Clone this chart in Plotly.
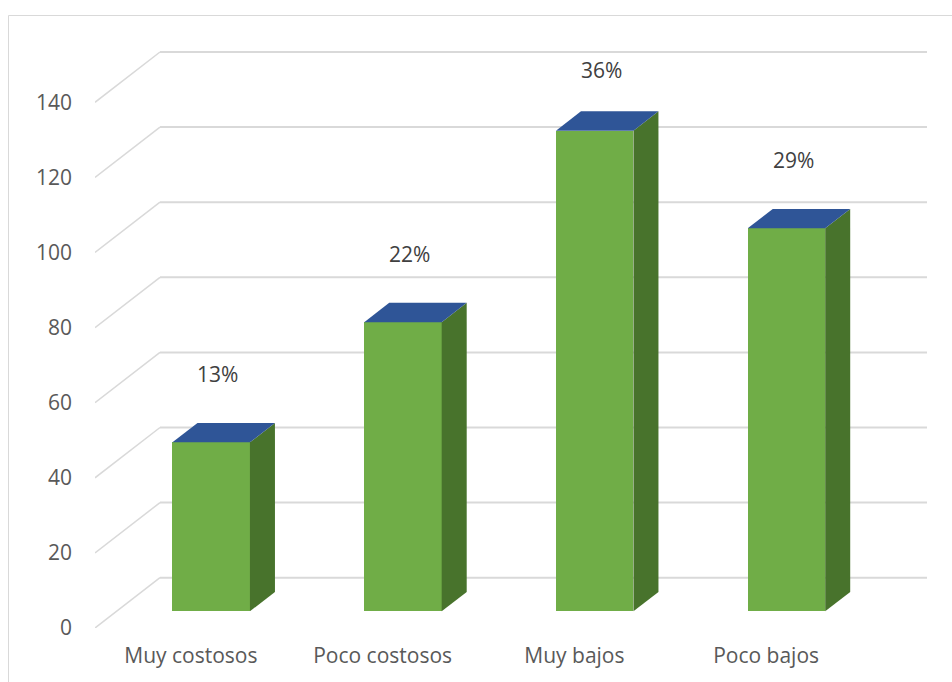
import plotly.graph_objects as go

# Data
categories = ["Muy costosos", "Poco costosos", "Muy bajos", "Poco bajos"]
values = [45, 77, 128, 102]
y_ticks = [0, 20, 40, 60, 80, 100, 120, 140]

# Canvas / plot-area geometry
W, H = 952, 682
M_L, M_R, M_T, M_B = 95, 25, 16, 54
plot_w = W - M_L - M_R
plot_h = H - M_T - M_B
PX_PER_UNIT = 3.755          # vertical pixels per value unit

# Oblique projection of the floor depth (in axis units)
n = len(categories)
PX_PER_CAT = 191.75
DEPTH_X = 65 / PX_PER_CAT
DEPTH_Y = 50.3 / PX_PER_UNIT

x_range = [-0.5, n - 0.5 + DEPTH_X]
y_range = [0, plot_h / PX_PER_UNIT]

# Bar placement inside the depth of the floor
F_FRONT = 0.332
F_DEPTH = 0.385
BAR_W = 0.404
base = F_FRONT * DEPTH_Y
shift = 0.106
dx = F_DEPTH * DEPTH_X
dy = F_DEPTH * DEPTH_Y

GREEN = "#70AD47"
GREEN_SIDE = "#48732C"
BLUE_TOP = "#2F5597"
GRID = "#D9D9D9"
TEXT = "#595959"
FONT = "Open Sans"
FS = 21

fig = go.Figure()

# Front faces of the bars
xc = [i + shift for i in range(n)]
fig.add_trace(go.Bar(
    x=xc, y=values, base=base, width=BAR_W,
    marker=dict(color=GREEN, line=dict(width=0)),
    hoverinfo="skip", showlegend=False,
))

# Side and top faces
for x, v in zip(xc, values):
    xl, xr = x - BAR_W / 2, x + BAR_W / 2
    top = base + v
    fig.add_trace(go.Scatter(
        x=[xr, xr, xr + dx, xr + dx, xr], y=[base, top, top + dy, base + dy, base],
        fill="toself", fillcolor=GREEN_SIDE, mode="lines", line=dict(width=0),
        hoverinfo="skip", showlegend=False,
    ))
    fig.add_trace(go.Scatter(
        x=[xl, xr, xr + dx, xl + dx, xl], y=[top, top, top + dy, top + dy, top],
        fill="toself", fillcolor=BLUE_TOP, mode="lines", line=dict(width=0),
        hoverinfo="skip", showlegend=False,
    ))

# Gridlines: diagonal on the side wall, horizontal on the back wall
shapes = []
for t in y_ticks:
    shapes.append(dict(type="line", xref="x", yref="y", layer="below",
                       x0=x_range[0], y0=t, x1=x_range[0] + DEPTH_X, y1=t + DEPTH_Y,
                       line=dict(color=GRID, width=1.5)))
    shapes.append(dict(type="line", xref="x", yref="y", layer="below",
                       x0=x_range[0] + DEPTH_X, y0=t + DEPTH_Y, x1=x_range[1], y1=t + DEPTH_Y,
                       line=dict(color=GRID, width=2)))


def px_x(px):
    return (px - M_L) / plot_w


def px_y(py):
    return (H - M_B - py) / plot_h


# Chart-area border (left and top edges)
shapes.append(dict(type="line", xref="paper", yref="paper", layer="below",
                   x0=px_x(8.5), y0=px_y(15.5), x1=px_x(8.5), y1=px_y(H + 2),
                   line=dict(color=GRID, width=1)))
shapes.append(dict(type="line", xref="paper", yref="paper", layer="below",
                   x0=px_x(8.5), y0=px_y(15.5), x1=px_x(W + 2), y1=px_y(15.5),
                   line=dict(color=GRID, width=1)))

# Percentage labels above the bars
total = sum(values)
LABEL_GAP = 18.2
LABEL_MAX = 148.7
annotations = []
for x, v in zip(xc, values):
    pct = int(v * 100 / total + 0.5)
    annotations.append(dict(
        x=x + 0.035, y=min(base + v + LABEL_GAP, LABEL_MAX), xref="x", yref="y",
        text=f"{pct}%", showarrow=False,
        font=dict(family=FONT, size=FS, color="#404040"),
        xanchor="center", yanchor="middle",
    ))

fig.update_layout(
    width=W, height=H,
    margin=dict(l=M_L, r=M_R, t=M_T, b=M_B, autoexpand=False),
    paper_bgcolor="white", plot_bgcolor="white",
    shapes=shapes, annotations=annotations,
    bargap=0, showlegend=False,
    font=dict(family=FONT, color=TEXT),
    xaxis=dict(range=x_range, tickvals=list(range(n)), ticktext=categories,
               showgrid=False, zeroline=False, showline=False, ticks="",
               tickfont=dict(family=FONT, size=FS, color=TEXT),
               ticklabelstandoff=13, fixedrange=True),
    yaxis=dict(range=y_range, tickvals=y_ticks,
               showgrid=False, zeroline=False, showline=False, ticks="",
               tickfont=dict(family=FONT, size=FS, color=TEXT),
               ticklabelstandoff=22, fixedrange=True),
)

fig.write_html("out.html")
